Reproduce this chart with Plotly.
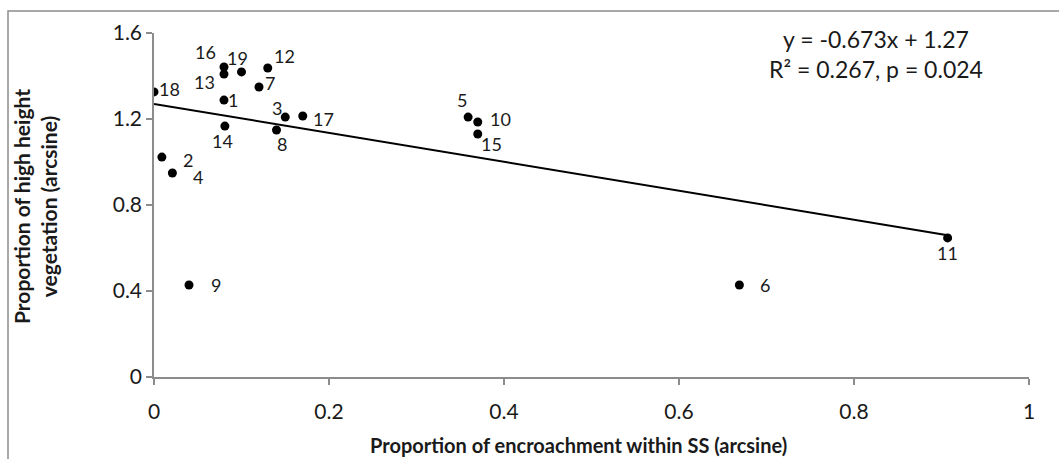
import plotly.graph_objects as go

# ---- data ----
site_ids = ["1", "2", "3", "4", "5", "6", "7", "8", "9", "10",
            "11", "12", "13", "14", "15", "16", "17", "18", "19"]
encroachment = [0.080, 0.009, 0.150, 0.021, 0.359, 0.669, 0.120, 0.140, 0.040, 0.370,
                0.907, 0.130, 0.080, 0.081, 0.370, 0.080, 0.170, 0.000, 0.100]
high_veg = [1.288, 1.023, 1.209, 0.949, 1.209, 0.428, 1.349, 1.149, 0.428, 1.186,
            0.647, 1.437, 1.409, 1.167, 1.130, 1.442, 1.214, 1.326, 1.419]
slope = -0.673
intercept = 1.27
x_ticks = [0, 0.2, 0.4, 0.6, 0.8, 1]
x_tick_text = ["0", "0.2", "0.4", "0.6", "0.8", "1"]
y_ticks = [0, 0.4, 0.8, 1.2, 1.6]
y_tick_text = ["0", "0.4", "0.8", "1.2", "1.6"]
equation_text = "y = -0.673x + 1.27<br>R² = 0.267, p = 0.024"
x_title = "Proportion of encroachment within SS (arcsine)"
y_title = "Proportion of high height<br>vegetation (arcsine)"

# label pixel offsets (dx right, dy up) per site label
label_offsets = {
    "1": (9, 0), "2": (26, -3), "3": (-8, 9), "4": (26, -4), "5": (-6, 17),
    "6": (26, 0), "7": (11, 4), "8": (5, -14), "9": (27, 0), "10": (23, 3),
    "11": (0, -15), "12": (17, 12), "13": (-20, -8), "14": (-2, -15),
    "15": (14, -10), "16": (-19, 15), "17": (21, -3), "18": (15, 3), "19": (-4, 14),
}

FONT = "Lato, Carlito, Calibri, sans-serif"
TXT = "#1a1a1a"
W, H = 1059, 459
L, R, T, B = 154, 30, 33, 82
pw, ph = W - L - R, H - T - B

fig = go.Figure()

x_min, x_max = min(encroachment), max(encroachment)
fig.add_trace(go.Scatter(
    x=[x_min, x_max], y=[slope * x_min + intercept, slope * x_max + intercept],
    mode="lines", line=dict(color="black", width=2), hoverinfo="skip", showlegend=False))

fig.add_trace(go.Scatter(
    x=encroachment, y=high_veg, mode="markers",
    marker=dict(color="black", size=9), showlegend=False))

for sid, xv, yv in zip(site_ids, encroachment, high_veg):
    dx, dy = label_offsets[sid]
    fig.add_annotation(x=xv, y=yv, text=sid, showarrow=False, xshift=dx, yshift=dy,
                       xanchor="center", yanchor="middle",
                       font=dict(family=FONT, size=18, color=TXT))

fig.add_annotation(xref="paper", yref="paper", x=(876 - L) / pw, y=(H - B - 54) / ph,
                   text=equation_text, showarrow=False, align="center",
                   xanchor="center", yanchor="middle",
                   font=dict(family=FONT, size=23, color=TXT))

# axis titles
fig.add_annotation(xref="paper", yref="paper", x=(578 - L) / pw, y=(H - B - 445) / ph,
                   text="<b>" + x_title + "</b>", showarrow=False,
                   xanchor="center", yanchor="middle",
                   font=dict(family=FONT, size=20, color=TXT))
fig.add_annotation(xref="paper", yref="paper", x=(35 - L) / pw, y=(H - B - 206) / ph,
                   text="<b>" + y_title + "</b>", showarrow=False, textangle=-90,
                   xanchor="center", yanchor="middle", align="center",
                   font=dict(family=FONT, size=21, color=TXT))

# chart frame (top and left edges visible)
fig.add_shape(type="rect", xref="paper", yref="paper",
              x0=(8 - L) / pw, x1=(W + 5 - L) / pw,
              y0=(H - B - (H + 5)) / ph, y1=(H - B - 11) / ph,
              line=dict(color="#8c8c8c", width=1.5), fillcolor="rgba(0,0,0,0)", layer="below")

axis_common = dict(showgrid=False, zeroline=False, showline=True, linecolor="#8c8c8c",
                   linewidth=1.5, ticks="outside", tickcolor="#8c8c8c", ticklen=6, tickwidth=1.5,
                   tickfont=dict(family=FONT, size=21, color=TXT))

fig.update_layout(
    width=W, height=H, margin=dict(l=L, r=R, t=T, b=B),
    paper_bgcolor="white", plot_bgcolor="white",
    xaxis=dict(range=[0, 1], tickvals=x_ticks, ticktext=x_tick_text,
               ticklabelstandoff=9, **axis_common),
    yaxis=dict(range=[0, 1.6], tickvals=y_ticks, ticktext=y_tick_text, **axis_common),
)

fig.write_html("out.html", config={"displayModeBar": False},
               post_script="document.body.style.margin='0';document.body.style.overflow='hidden';")
